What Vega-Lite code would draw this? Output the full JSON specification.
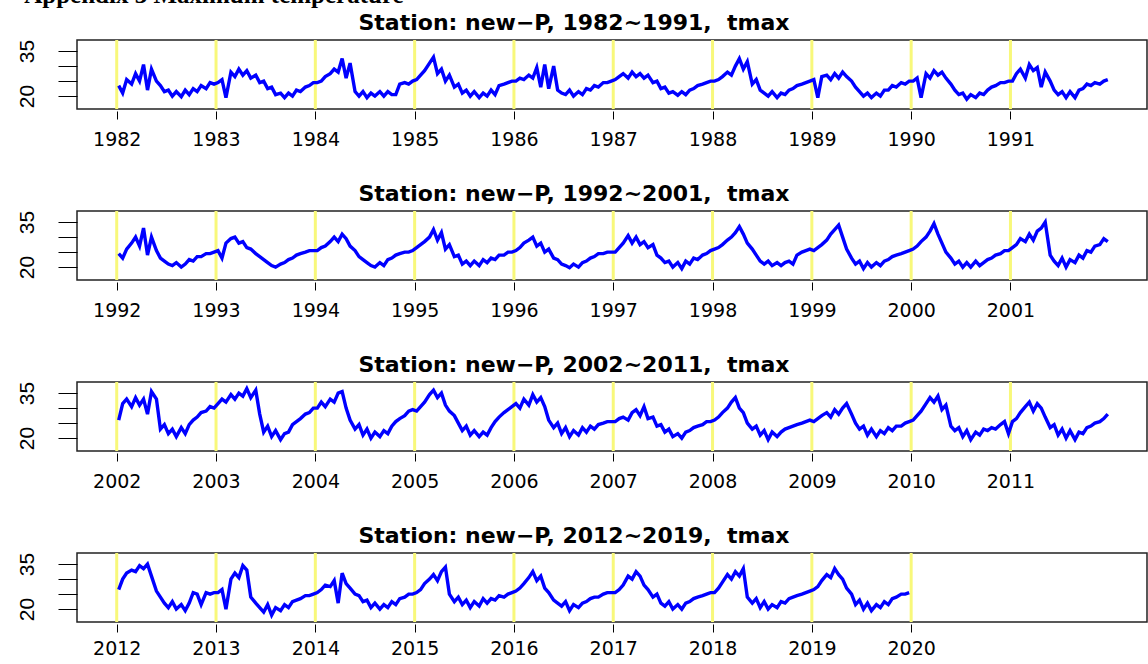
{
"$schema": "https://vega.github.io/schema/vega-lite/v6.json",
"background": "white",
"padding": {"left": 15, "top": -18, "right": 0, "bottom": 0},
"title": {"text": "Appendix 3 Maximum temperature", "anchor": "start", "font": "Liberation Serif", "fontSize": 25, "fontWeight": "bold", "color": "black", "offset": 3, "dx": 9},
"config": {
 "view": {"stroke": "#222222", "strokeWidth": 1.5},
 "title": {"font": "DejaVu Sans", "fontSize": 22, "fontWeight": "bold", "color": "black", "anchor": "middle", "offset": 4},
 "axis": {"grid": false, "domain": false, "tickColor": "black", "labelColor": "black"}
},
"spacing": 31,
"datasets": {
"yr": [{"x":1982},{"x":1983},{"x":1984},{"x":1985},{"x":1986},{"x":1987},{"x":1988},{"x":1989},{"x":1990},{"x":1991},{"x":1992},{"x":1993},{"x":1994},{"x":1995},{"x":1996},{"x":1997},{"x":1998},{"x":1999},{"x":2000},{"x":2001},{"x":2002},{"x":2003},{"x":2004},{"x":2005},{"x":2006},{"x":2007},{"x":2008},{"x":2009},{"x":2010},{"x":2011},{"x":2012},{"x":2013},{"x":2014},{"x":2015},{"x":2016},{"x":2017},{"x":2018},{"x":2019},{"x":2020}],
"tmax": [
{"x":1982.02,"t":23.5},{"x":1982.06,"t":21},{"x":1982.10,"t":25.5},{"x":1982.15,"t":24},{"x":1982.19,"t":27.5},{"x":1982.23,"t":25},{"x":1982.27,"t":30.5},{"x":1982.31,"t":22},{"x":1982.35,"t":29},{"x":1982.40,"t":25},{"x":1982.44,"t":23.5},{"x":1982.48,"t":21.5},{"x":1982.52,"t":22},{"x":1982.56,"t":20},{"x":1982.60,"t":21.5},{"x":1982.65,"t":19.8},{"x":1982.69,"t":22},{"x":1982.73,"t":20.5},{"x":1982.77,"t":22.5},{"x":1982.81,"t":21.5},{"x":1982.85,"t":23.5},{"x":1982.90,"t":22.5},{"x":1982.94,"t":24.5},{"x":1982.98,"t":24},
{"x":1983.02,"t":24.5},{"x":1983.06,"t":25.5},{"x":1983.10,"t":19.5},{"x":1983.15,"t":28},{"x":1983.19,"t":26.5},{"x":1983.23,"t":29},{"x":1983.27,"t":27},{"x":1983.31,"t":28.5},{"x":1983.35,"t":26},{"x":1983.40,"t":27},{"x":1983.44,"t":24.5},{"x":1983.48,"t":25},{"x":1983.52,"t":22.5},{"x":1983.56,"t":23},{"x":1983.60,"t":20.5},{"x":1983.65,"t":21},{"x":1983.69,"t":19.5},{"x":1983.73,"t":21},{"x":1983.77,"t":20},{"x":1983.81,"t":22},{"x":1983.85,"t":21.5},{"x":1983.90,"t":23},{"x":1983.94,"t":23.5},{"x":1983.98,"t":24.5},
{"x":1984.02,"t":24.5},{"x":1984.06,"t":25},{"x":1984.10,"t":26.5},{"x":1984.15,"t":27.5},{"x":1984.19,"t":29},{"x":1984.23,"t":28},{"x":1984.27,"t":32.5},{"x":1984.31,"t":26},{"x":1984.35,"t":31},{"x":1984.40,"t":21.5},{"x":1984.44,"t":20},{"x":1984.48,"t":21.5},{"x":1984.52,"t":19.5},{"x":1984.56,"t":21},{"x":1984.60,"t":20},{"x":1984.65,"t":21.5},{"x":1984.69,"t":20},{"x":1984.73,"t":21.5},{"x":1984.77,"t":20.5},{"x":1984.81,"t":20.5},{"x":1984.85,"t":24},{"x":1984.90,"t":24.5},{"x":1984.94,"t":24},{"x":1984.98,"t":25},
{"x":1985.02,"t":25.5},{"x":1985.06,"t":27},{"x":1985.10,"t":28.5},{"x":1985.15,"t":31},{"x":1985.19,"t":33},{"x":1985.23,"t":27.5},{"x":1985.27,"t":29},{"x":1985.31,"t":25},{"x":1985.35,"t":27},{"x":1985.40,"t":23},{"x":1985.44,"t":24},{"x":1985.48,"t":21},{"x":1985.52,"t":22},{"x":1985.56,"t":20},{"x":1985.60,"t":21.5},{"x":1985.65,"t":19.5},{"x":1985.69,"t":21},{"x":1985.73,"t":20},{"x":1985.77,"t":22},{"x":1985.81,"t":20.5},{"x":1985.85,"t":23.5},{"x":1985.90,"t":24},{"x":1985.94,"t":24.5},{"x":1985.98,"t":25},
{"x":1986.02,"t":25},{"x":1986.06,"t":26},{"x":1986.10,"t":25.5},{"x":1986.15,"t":27},{"x":1986.19,"t":26},{"x":1986.23,"t":29.5},{"x":1986.27,"t":23},{"x":1986.31,"t":30.5},{"x":1986.35,"t":22.5},{"x":1986.40,"t":30},{"x":1986.44,"t":22},{"x":1986.48,"t":21},{"x":1986.52,"t":20.5},{"x":1986.56,"t":22},{"x":1986.60,"t":20},{"x":1986.65,"t":21.5},{"x":1986.69,"t":20.5},{"x":1986.73,"t":22.5},{"x":1986.77,"t":22},{"x":1986.81,"t":23.5},{"x":1986.85,"t":23},{"x":1986.90,"t":24.5},{"x":1986.94,"t":24.5},{"x":1986.98,"t":25},
{"x":1987.02,"t":25.5},{"x":1987.06,"t":26.5},{"x":1987.10,"t":27.5},{"x":1987.15,"t":26},{"x":1987.19,"t":28},{"x":1987.23,"t":26.5},{"x":1987.27,"t":27.5},{"x":1987.31,"t":26},{"x":1987.35,"t":27},{"x":1987.40,"t":24.5},{"x":1987.44,"t":25},{"x":1987.48,"t":22.5},{"x":1987.52,"t":23},{"x":1987.56,"t":21},{"x":1987.60,"t":21.5},{"x":1987.65,"t":20.3},{"x":1987.69,"t":21.5},{"x":1987.73,"t":20.5},{"x":1987.77,"t":22},{"x":1987.81,"t":22.5},{"x":1987.85,"t":23.5},{"x":1987.90,"t":24},{"x":1987.94,"t":24.5},{"x":1987.98,"t":25},
{"x":1988.02,"t":25},{"x":1988.06,"t":25.5},{"x":1988.10,"t":26.5},{"x":1988.15,"t":28},{"x":1988.19,"t":27},{"x":1988.23,"t":30},{"x":1988.27,"t":32.5},{"x":1988.31,"t":29},{"x":1988.35,"t":31.5},{"x":1988.40,"t":24},{"x":1988.44,"t":25.5},{"x":1988.48,"t":22},{"x":1988.52,"t":21},{"x":1988.56,"t":20},{"x":1988.60,"t":21.5},{"x":1988.65,"t":19.5},{"x":1988.69,"t":21},{"x":1988.73,"t":20.5},{"x":1988.77,"t":22},{"x":1988.81,"t":22.5},{"x":1988.85,"t":23.5},{"x":1988.90,"t":24},{"x":1988.94,"t":24.5},{"x":1988.98,"t":25},
{"x":1989.02,"t":25.5},{"x":1989.06,"t":19.5},{"x":1989.10,"t":26.5},{"x":1989.15,"t":27},{"x":1989.19,"t":25.5},{"x":1989.23,"t":27.5},{"x":1989.27,"t":26},{"x":1989.31,"t":28},{"x":1989.35,"t":26.5},{"x":1989.40,"t":25},{"x":1989.44,"t":23},{"x":1989.48,"t":21.5},{"x":1989.52,"t":20},{"x":1989.56,"t":21},{"x":1989.60,"t":19.5},{"x":1989.65,"t":21},{"x":1989.69,"t":20},{"x":1989.73,"t":22},{"x":1989.77,"t":22},{"x":1989.81,"t":23.5},{"x":1989.85,"t":23},{"x":1989.90,"t":24.5},{"x":1989.94,"t":24},{"x":1989.98,"t":25},
{"x":1990.02,"t":25},{"x":1990.06,"t":26},{"x":1990.10,"t":19.5},{"x":1990.15,"t":27.5},{"x":1990.19,"t":26},{"x":1990.23,"t":28.5},{"x":1990.27,"t":27},{"x":1990.31,"t":28},{"x":1990.35,"t":26},{"x":1990.40,"t":24},{"x":1990.44,"t":22},{"x":1990.48,"t":20.5},{"x":1990.52,"t":21},{"x":1990.56,"t":19},{"x":1990.60,"t":20.5},{"x":1990.65,"t":19.5},{"x":1990.69,"t":21},{"x":1990.73,"t":20.5},{"x":1990.77,"t":22},{"x":1990.81,"t":23},{"x":1990.85,"t":23.5},{"x":1990.90,"t":24.5},{"x":1990.94,"t":24.5},{"x":1990.98,"t":25},
{"x":1991.02,"t":25},{"x":1991.06,"t":27.5},{"x":1991.10,"t":29},{"x":1991.15,"t":26},{"x":1991.19,"t":30.5},{"x":1991.23,"t":28.5},{"x":1991.27,"t":29.5},{"x":1991.31,"t":23},{"x":1991.35,"t":28},{"x":1991.40,"t":25},{"x":1991.44,"t":22},{"x":1991.48,"t":20.5},{"x":1991.52,"t":21.5},{"x":1991.56,"t":19.5},{"x":1991.60,"t":21.5},{"x":1991.65,"t":19.5},{"x":1991.69,"t":22},{"x":1991.73,"t":22.5},{"x":1991.77,"t":24},{"x":1991.81,"t":23.5},{"x":1991.85,"t":24.5},{"x":1991.90,"t":24},{"x":1991.94,"t":25},{"x":1991.98,"t":25.5},
{"x":1992.02,"t":24.5},{"x":1992.06,"t":23},{"x":1992.10,"t":26},{"x":1992.15,"t":28},{"x":1992.19,"t":30},{"x":1992.23,"t":27},{"x":1992.27,"t":33},{"x":1992.31,"t":24},{"x":1992.35,"t":30},{"x":1992.40,"t":25.5},{"x":1992.44,"t":23},{"x":1992.48,"t":22},{"x":1992.52,"t":21},{"x":1992.56,"t":20.5},{"x":1992.60,"t":21.5},{"x":1992.65,"t":20},{"x":1992.69,"t":21},{"x":1992.73,"t":22.5},{"x":1992.77,"t":22},{"x":1992.81,"t":23.5},{"x":1992.85,"t":23.5},{"x":1992.90,"t":24.5},{"x":1992.94,"t":24.5},{"x":1992.98,"t":25},
{"x":1993.02,"t":25.5},{"x":1993.06,"t":23},{"x":1993.10,"t":28},{"x":1993.15,"t":29.5},{"x":1993.19,"t":30},{"x":1993.23,"t":28},{"x":1993.27,"t":28.5},{"x":1993.31,"t":26.5},{"x":1993.35,"t":26},{"x":1993.40,"t":24.5},{"x":1993.44,"t":23.5},{"x":1993.48,"t":22.5},{"x":1993.52,"t":21.5},{"x":1993.56,"t":20.5},{"x":1993.60,"t":20},{"x":1993.65,"t":21},{"x":1993.69,"t":21.5},{"x":1993.73,"t":22.5},{"x":1993.77,"t":23},{"x":1993.81,"t":24},{"x":1993.85,"t":24.5},{"x":1993.90,"t":25},{"x":1993.94,"t":25.5},{"x":1993.98,"t":25.5},
{"x":1994.02,"t":25.5},{"x":1994.06,"t":26.5},{"x":1994.10,"t":27},{"x":1994.15,"t":28.5},{"x":1994.19,"t":30},{"x":1994.23,"t":28.5},{"x":1994.27,"t":31},{"x":1994.31,"t":29.5},{"x":1994.35,"t":27},{"x":1994.40,"t":25.5},{"x":1994.44,"t":23.5},{"x":1994.48,"t":22.5},{"x":1994.52,"t":21.5},{"x":1994.56,"t":20.5},{"x":1994.60,"t":20},{"x":1994.65,"t":21.5},{"x":1994.69,"t":20.5},{"x":1994.73,"t":22.5},{"x":1994.77,"t":23},{"x":1994.81,"t":24},{"x":1994.85,"t":24.5},{"x":1994.90,"t":25},{"x":1994.94,"t":25},{"x":1994.98,"t":25.5},
{"x":1995.02,"t":26.5},{"x":1995.06,"t":27.5},{"x":1995.10,"t":28.5},{"x":1995.15,"t":30},{"x":1995.19,"t":32.5},{"x":1995.23,"t":29},{"x":1995.27,"t":31.5},{"x":1995.31,"t":26},{"x":1995.35,"t":27.5},{"x":1995.40,"t":23.5},{"x":1995.44,"t":24},{"x":1995.48,"t":21},{"x":1995.52,"t":22},{"x":1995.56,"t":20.5},{"x":1995.60,"t":22},{"x":1995.65,"t":20.5},{"x":1995.69,"t":22.5},{"x":1995.73,"t":21.5},{"x":1995.77,"t":23},{"x":1995.81,"t":22.5},{"x":1995.85,"t":24},{"x":1995.90,"t":24},{"x":1995.94,"t":25},{"x":1995.98,"t":25},
{"x":1996.02,"t":25.5},{"x":1996.06,"t":26.5},{"x":1996.10,"t":28},{"x":1996.15,"t":29},{"x":1996.19,"t":30},{"x":1996.23,"t":27},{"x":1996.27,"t":28},{"x":1996.31,"t":25},{"x":1996.35,"t":26},{"x":1996.40,"t":23},{"x":1996.44,"t":22.5},{"x":1996.48,"t":21},{"x":1996.52,"t":20.5},{"x":1996.56,"t":19.8},{"x":1996.60,"t":21},{"x":1996.65,"t":20},{"x":1996.69,"t":21.5},{"x":1996.73,"t":22},{"x":1996.77,"t":23},{"x":1996.81,"t":23.5},{"x":1996.85,"t":24.5},{"x":1996.90,"t":24.5},{"x":1996.94,"t":25},{"x":1996.98,"t":25},
{"x":1997.02,"t":25},{"x":1997.06,"t":26.5},{"x":1997.10,"t":28},{"x":1997.15,"t":30.5},{"x":1997.19,"t":28},{"x":1997.23,"t":30},{"x":1997.27,"t":27.5},{"x":1997.31,"t":28.5},{"x":1997.35,"t":26.5},{"x":1997.40,"t":27.5},{"x":1997.44,"t":24},{"x":1997.48,"t":23},{"x":1997.52,"t":21.5},{"x":1997.56,"t":22},{"x":1997.60,"t":20},{"x":1997.65,"t":21.5},{"x":1997.69,"t":19.5},{"x":1997.73,"t":22},{"x":1997.77,"t":21},{"x":1997.81,"t":23},{"x":1997.85,"t":22.5},{"x":1997.90,"t":24},{"x":1997.94,"t":24.5},{"x":1997.98,"t":25.5},
{"x":1998.02,"t":26},{"x":1998.06,"t":26.5},{"x":1998.10,"t":27.5},{"x":1998.15,"t":29},{"x":1998.19,"t":30},{"x":1998.23,"t":31.5},{"x":1998.27,"t":33.5},{"x":1998.31,"t":31},{"x":1998.35,"t":28},{"x":1998.40,"t":26},{"x":1998.44,"t":24},{"x":1998.48,"t":22},{"x":1998.52,"t":21},{"x":1998.56,"t":22},{"x":1998.60,"t":20.5},{"x":1998.65,"t":21.5},{"x":1998.69,"t":20.5},{"x":1998.73,"t":21.5},{"x":1998.77,"t":22},{"x":1998.81,"t":21},{"x":1998.85,"t":24},{"x":1998.90,"t":25},{"x":1998.94,"t":25.5},{"x":1998.98,"t":26},
{"x":1999.02,"t":25.5},{"x":1999.06,"t":26.5},{"x":1999.10,"t":27.5},{"x":1999.15,"t":29},{"x":1999.19,"t":31},{"x":1999.23,"t":32.5},{"x":1999.27,"t":34},{"x":1999.31,"t":30},{"x":1999.35,"t":26},{"x":1999.40,"t":23},{"x":1999.44,"t":21},{"x":1999.48,"t":22},{"x":1999.52,"t":19.5},{"x":1999.56,"t":21.5},{"x":1999.60,"t":20},{"x":1999.65,"t":21.5},{"x":1999.69,"t":20.5},{"x":1999.73,"t":22},{"x":1999.77,"t":22.5},{"x":1999.81,"t":23.5},{"x":1999.85,"t":24},{"x":1999.90,"t":24.5},{"x":1999.94,"t":25},{"x":1999.98,"t":25.5},
{"x":2000.02,"t":26},{"x":2000.06,"t":27},{"x":2000.10,"t":28.5},{"x":2000.15,"t":30},{"x":2000.19,"t":32},{"x":2000.23,"t":34.5},{"x":2000.27,"t":31},{"x":2000.31,"t":28},{"x":2000.35,"t":25},{"x":2000.40,"t":23},{"x":2000.44,"t":21},{"x":2000.48,"t":22},{"x":2000.52,"t":20},{"x":2000.56,"t":21.5},{"x":2000.60,"t":20},{"x":2000.65,"t":22},{"x":2000.69,"t":20.5},{"x":2000.73,"t":21.5},{"x":2000.77,"t":22.5},{"x":2000.81,"t":23},{"x":2000.85,"t":24},{"x":2000.90,"t":24.5},{"x":2000.94,"t":25.5},{"x":2000.98,"t":25.5},
{"x":2001.02,"t":26.5},{"x":2001.06,"t":27.5},{"x":2001.10,"t":29.5},{"x":2001.15,"t":28.5},{"x":2001.19,"t":31},{"x":2001.23,"t":29},{"x":2001.27,"t":32},{"x":2001.31,"t":33},{"x":2001.35,"t":35},{"x":2001.40,"t":24},{"x":2001.44,"t":22},{"x":2001.48,"t":20.5},{"x":2001.52,"t":23},{"x":2001.56,"t":20},{"x":2001.60,"t":22.5},{"x":2001.65,"t":21.5},{"x":2001.69,"t":24},{"x":2001.73,"t":23},{"x":2001.77,"t":25.5},{"x":2001.81,"t":25},{"x":2001.85,"t":27},{"x":2001.90,"t":27.5},{"x":2001.94,"t":29.5},{"x":2001.98,"t":28.5},
{"x":2002.02,"t":26},{"x":2002.06,"t":31.5},{"x":2002.10,"t":33},{"x":2002.15,"t":30.5},{"x":2002.19,"t":33.5},{"x":2002.23,"t":31},{"x":2002.27,"t":33},{"x":2002.31,"t":28},{"x":2002.35,"t":35.5},{"x":2002.40,"t":33},{"x":2002.44,"t":23},{"x":2002.48,"t":24.5},{"x":2002.52,"t":21.5},{"x":2002.56,"t":23},{"x":2002.60,"t":20.5},{"x":2002.65,"t":23.5},{"x":2002.69,"t":21.5},{"x":2002.73,"t":24.5},{"x":2002.77,"t":26},{"x":2002.81,"t":27},{"x":2002.85,"t":28.5},{"x":2002.90,"t":29},{"x":2002.94,"t":30.5},{"x":2002.98,"t":30},
{"x":2003.02,"t":31.5},{"x":2003.06,"t":33},{"x":2003.10,"t":32},{"x":2003.15,"t":34.5},{"x":2003.19,"t":33},{"x":2003.23,"t":35},{"x":2003.27,"t":34},{"x":2003.31,"t":36.5},{"x":2003.35,"t":33.5},{"x":2003.40,"t":36},{"x":2003.44,"t":28},{"x":2003.48,"t":22},{"x":2003.52,"t":24},{"x":2003.56,"t":20.5},{"x":2003.60,"t":22.5},{"x":2003.65,"t":19.5},{"x":2003.69,"t":21.5},{"x":2003.73,"t":22},{"x":2003.77,"t":24.5},{"x":2003.81,"t":25.5},{"x":2003.85,"t":26.5},{"x":2003.90,"t":28},{"x":2003.94,"t":28.5},{"x":2003.98,"t":30},
{"x":2004.02,"t":30},{"x":2004.06,"t":32},{"x":2004.10,"t":30.5},{"x":2004.15,"t":33},{"x":2004.19,"t":32},{"x":2004.23,"t":35},{"x":2004.27,"t":35.5},{"x":2004.31,"t":30},{"x":2004.35,"t":26},{"x":2004.40,"t":23},{"x":2004.44,"t":24.5},{"x":2004.48,"t":21},{"x":2004.52,"t":23},{"x":2004.56,"t":20},{"x":2004.60,"t":22},{"x":2004.65,"t":20.5},{"x":2004.69,"t":22.5},{"x":2004.73,"t":21.5},{"x":2004.77,"t":24},{"x":2004.81,"t":25.5},{"x":2004.85,"t":26.5},{"x":2004.90,"t":27.5},{"x":2004.94,"t":29},{"x":2004.98,"t":29.5},
{"x":2005.02,"t":29},{"x":2005.06,"t":30.5},{"x":2005.10,"t":32},{"x":2005.15,"t":34.5},{"x":2005.19,"t":36},{"x":2005.23,"t":33.5},{"x":2005.27,"t":35},{"x":2005.31,"t":31},{"x":2005.35,"t":29},{"x":2005.40,"t":27.5},{"x":2005.44,"t":25},{"x":2005.48,"t":22.5},{"x":2005.52,"t":24},{"x":2005.56,"t":21},{"x":2005.60,"t":22.5},{"x":2005.65,"t":20.5},{"x":2005.69,"t":22},{"x":2005.73,"t":21},{"x":2005.77,"t":23.5},{"x":2005.81,"t":25.5},{"x":2005.85,"t":27},{"x":2005.90,"t":28.5},{"x":2005.94,"t":29.5},{"x":2005.98,"t":30.5},
{"x":2006.02,"t":31.5},{"x":2006.06,"t":30},{"x":2006.10,"t":33},{"x":2006.15,"t":31},{"x":2006.19,"t":34.5},{"x":2006.23,"t":32},{"x":2006.27,"t":33.5},{"x":2006.31,"t":30.5},{"x":2006.35,"t":26},{"x":2006.40,"t":23.5},{"x":2006.44,"t":25},{"x":2006.48,"t":21.5},{"x":2006.52,"t":23.5},{"x":2006.56,"t":20.5},{"x":2006.60,"t":22.5},{"x":2006.65,"t":21},{"x":2006.69,"t":23.5},{"x":2006.73,"t":22},{"x":2006.77,"t":24},{"x":2006.81,"t":23},{"x":2006.85,"t":24.5},{"x":2006.90,"t":25},{"x":2006.94,"t":25.5},{"x":2006.98,"t":25.5},
{"x":2007.02,"t":25.5},{"x":2007.06,"t":26.5},{"x":2007.10,"t":27},{"x":2007.15,"t":26},{"x":2007.19,"t":28.5},{"x":2007.23,"t":29.5},{"x":2007.27,"t":27.5},{"x":2007.31,"t":30.5},{"x":2007.35,"t":26.5},{"x":2007.40,"t":27},{"x":2007.44,"t":24},{"x":2007.48,"t":24.5},{"x":2007.52,"t":22},{"x":2007.56,"t":23},{"x":2007.60,"t":20.5},{"x":2007.65,"t":21.5},{"x":2007.69,"t":20},{"x":2007.73,"t":22},{"x":2007.77,"t":22.5},{"x":2007.81,"t":23.5},{"x":2007.85,"t":24},{"x":2007.90,"t":24.5},{"x":2007.94,"t":25.5},{"x":2007.98,"t":25.5},
{"x":2008.02,"t":26},{"x":2008.06,"t":27},{"x":2008.10,"t":28.5},{"x":2008.15,"t":30},{"x":2008.19,"t":32},{"x":2008.23,"t":33.5},{"x":2008.27,"t":30},{"x":2008.31,"t":28.5},{"x":2008.35,"t":25},{"x":2008.40,"t":23},{"x":2008.44,"t":24},{"x":2008.48,"t":21},{"x":2008.52,"t":22.5},{"x":2008.56,"t":19.5},{"x":2008.60,"t":22},{"x":2008.65,"t":20.5},{"x":2008.69,"t":22},{"x":2008.73,"t":23},{"x":2008.77,"t":23.5},{"x":2008.81,"t":24},{"x":2008.85,"t":24.5},{"x":2008.90,"t":25},{"x":2008.94,"t":25.5},{"x":2008.98,"t":26},
{"x":2009.02,"t":25.5},{"x":2009.06,"t":26.5},{"x":2009.10,"t":27.5},{"x":2009.15,"t":28.5},{"x":2009.19,"t":27},{"x":2009.23,"t":29.5},{"x":2009.27,"t":28},{"x":2009.31,"t":30},{"x":2009.35,"t":31.5},{"x":2009.40,"t":28},{"x":2009.44,"t":25},{"x":2009.48,"t":23},{"x":2009.52,"t":24},{"x":2009.56,"t":21},{"x":2009.60,"t":23},{"x":2009.65,"t":20.5},{"x":2009.69,"t":22.5},{"x":2009.73,"t":21.5},{"x":2009.77,"t":23.5},{"x":2009.81,"t":22.5},{"x":2009.85,"t":24},{"x":2009.90,"t":24},{"x":2009.94,"t":25},{"x":2009.98,"t":25.5},
{"x":2010.02,"t":26},{"x":2010.06,"t":27.5},{"x":2010.10,"t":29},{"x":2010.15,"t":31.5},{"x":2010.19,"t":33.5},{"x":2010.23,"t":32},{"x":2010.27,"t":34},{"x":2010.31,"t":29.5},{"x":2010.35,"t":31},{"x":2010.40,"t":24},{"x":2010.44,"t":22.5},{"x":2010.48,"t":23.5},{"x":2010.52,"t":20.5},{"x":2010.56,"t":22.5},{"x":2010.60,"t":19.5},{"x":2010.65,"t":22},{"x":2010.69,"t":21},{"x":2010.73,"t":23},{"x":2010.77,"t":22.5},{"x":2010.81,"t":23.5},{"x":2010.85,"t":23},{"x":2010.90,"t":24.5},{"x":2010.94,"t":25.5},{"x":2010.98,"t":21.5},
{"x":2011.02,"t":25.5},{"x":2011.06,"t":26.5},{"x":2011.10,"t":28.5},{"x":2011.15,"t":30.5},{"x":2011.19,"t":32},{"x":2011.23,"t":29},{"x":2011.27,"t":31.5},{"x":2011.31,"t":30},{"x":2011.35,"t":27},{"x":2011.40,"t":23.5},{"x":2011.44,"t":24.5},{"x":2011.48,"t":21},{"x":2011.52,"t":23},{"x":2011.56,"t":20},{"x":2011.60,"t":22.5},{"x":2011.65,"t":19.5},{"x":2011.69,"t":22},{"x":2011.73,"t":21.5},{"x":2011.77,"t":23.5},{"x":2011.81,"t":24},{"x":2011.85,"t":25},{"x":2011.90,"t":25.5},{"x":2011.94,"t":26.5},{"x":2011.98,"t":28},
{"x":2012.02,"t":26.5},{"x":2012.06,"t":30},{"x":2012.10,"t":32},{"x":2012.15,"t":33},{"x":2012.19,"t":32.5},{"x":2012.23,"t":34.5},{"x":2012.27,"t":33.5},{"x":2012.31,"t":35},{"x":2012.35,"t":31},{"x":2012.40,"t":26},{"x":2012.44,"t":24},{"x":2012.48,"t":22},{"x":2012.52,"t":20.5},{"x":2012.56,"t":22.5},{"x":2012.60,"t":20},{"x":2012.65,"t":21.5},{"x":2012.69,"t":19.5},{"x":2012.73,"t":22},{"x":2012.77,"t":25.5},{"x":2012.81,"t":25},{"x":2012.85,"t":21.5},{"x":2012.90,"t":25.5},{"x":2012.94,"t":25},{"x":2012.98,"t":25.5},
{"x":2013.02,"t":25.5},{"x":2013.06,"t":26.5},{"x":2013.10,"t":20},{"x":2013.15,"t":30},{"x":2013.19,"t":32},{"x":2013.23,"t":30.5},{"x":2013.27,"t":34.5},{"x":2013.31,"t":33},{"x":2013.35,"t":24},{"x":2013.40,"t":22},{"x":2013.44,"t":20.5},{"x":2013.48,"t":19},{"x":2013.52,"t":21.5},{"x":2013.56,"t":18},{"x":2013.60,"t":20.5},{"x":2013.65,"t":19.5},{"x":2013.69,"t":21.5},{"x":2013.73,"t":20.5},{"x":2013.77,"t":22.5},{"x":2013.81,"t":23},{"x":2013.85,"t":23.5},{"x":2013.90,"t":24.5},{"x":2013.94,"t":24.5},{"x":2013.98,"t":25},
{"x":2014.02,"t":25.5},{"x":2014.06,"t":26.5},{"x":2014.10,"t":28},{"x":2014.15,"t":27.5},{"x":2014.19,"t":29.5},{"x":2014.23,"t":22},{"x":2014.27,"t":32},{"x":2014.31,"t":28.5},{"x":2014.35,"t":27},{"x":2014.40,"t":25},{"x":2014.44,"t":24.5},{"x":2014.48,"t":22.5},{"x":2014.52,"t":23},{"x":2014.56,"t":20.5},{"x":2014.60,"t":22},{"x":2014.65,"t":20},{"x":2014.69,"t":21.5},{"x":2014.73,"t":20.5},{"x":2014.77,"t":22.5},{"x":2014.81,"t":21.5},{"x":2014.85,"t":23.5},{"x":2014.90,"t":24},{"x":2014.94,"t":25},{"x":2014.98,"t":25},
{"x":2015.02,"t":25.5},{"x":2015.06,"t":26.5},{"x":2015.10,"t":28.5},{"x":2015.15,"t":30},{"x":2015.19,"t":31.5},{"x":2015.23,"t":29.5},{"x":2015.27,"t":32.5},{"x":2015.31,"t":34},{"x":2015.35,"t":25},{"x":2015.40,"t":22.5},{"x":2015.44,"t":24},{"x":2015.48,"t":21.5},{"x":2015.52,"t":23},{"x":2015.56,"t":20.5},{"x":2015.60,"t":22.5},{"x":2015.65,"t":21},{"x":2015.69,"t":23.5},{"x":2015.73,"t":22},{"x":2015.77,"t":23.5},{"x":2015.81,"t":23},{"x":2015.85,"t":24.5},{"x":2015.90,"t":24},{"x":2015.94,"t":25},{"x":2015.98,"t":25.5},
{"x":2016.02,"t":26},{"x":2016.06,"t":27},{"x":2016.10,"t":28.5},{"x":2016.15,"t":30.5},{"x":2016.19,"t":32.5},{"x":2016.23,"t":29.5},{"x":2016.27,"t":31},{"x":2016.31,"t":27},{"x":2016.35,"t":25.5},{"x":2016.40,"t":23},{"x":2016.44,"t":22},{"x":2016.48,"t":21},{"x":2016.52,"t":22.5},{"x":2016.56,"t":19.5},{"x":2016.60,"t":21.5},{"x":2016.65,"t":20.5},{"x":2016.69,"t":22},{"x":2016.73,"t":22.5},{"x":2016.77,"t":23.5},{"x":2016.81,"t":24},{"x":2016.85,"t":24},{"x":2016.90,"t":25},{"x":2016.94,"t":25.5},{"x":2016.98,"t":25.5},
{"x":2017.02,"t":25.5},{"x":2017.06,"t":26.5},{"x":2017.10,"t":28},{"x":2017.15,"t":31},{"x":2017.19,"t":30},{"x":2017.23,"t":32.5},{"x":2017.27,"t":31},{"x":2017.31,"t":28},{"x":2017.35,"t":26.5},{"x":2017.40,"t":24},{"x":2017.44,"t":25},{"x":2017.48,"t":22},{"x":2017.52,"t":21},{"x":2017.56,"t":22.5},{"x":2017.60,"t":20},{"x":2017.65,"t":21.5},{"x":2017.69,"t":20},{"x":2017.73,"t":22},{"x":2017.77,"t":22.5},{"x":2017.81,"t":23.5},{"x":2017.85,"t":24},{"x":2017.90,"t":24.5},{"x":2017.94,"t":25},{"x":2017.98,"t":25.5},
{"x":2018.02,"t":25.5},{"x":2018.06,"t":27},{"x":2018.10,"t":29},{"x":2018.15,"t":31.5},{"x":2018.19,"t":30},{"x":2018.23,"t":32.5},{"x":2018.27,"t":31},{"x":2018.31,"t":33.5},{"x":2018.35,"t":24},{"x":2018.40,"t":22},{"x":2018.44,"t":23.5},{"x":2018.48,"t":20.5},{"x":2018.52,"t":22.5},{"x":2018.56,"t":20},{"x":2018.60,"t":21.5},{"x":2018.65,"t":20.5},{"x":2018.69,"t":22.5},{"x":2018.73,"t":22},{"x":2018.77,"t":23.5},{"x":2018.81,"t":24},{"x":2018.85,"t":24.5},{"x":2018.90,"t":25},{"x":2018.94,"t":25.5},{"x":2018.98,"t":26},
{"x":2019.02,"t":26.5},{"x":2019.06,"t":27.5},{"x":2019.10,"t":29.5},{"x":2019.15,"t":31.5},{"x":2019.19,"t":30.5},{"x":2019.23,"t":33.5},{"x":2019.27,"t":31.5},{"x":2019.31,"t":30},{"x":2019.35,"t":27},{"x":2019.40,"t":25},{"x":2019.44,"t":21.5},{"x":2019.48,"t":23},{"x":2019.52,"t":20},{"x":2019.56,"t":22},{"x":2019.60,"t":19.5},{"x":2019.65,"t":21.5},{"x":2019.69,"t":20.5},{"x":2019.73,"t":22.5},{"x":2019.77,"t":21.5},{"x":2019.81,"t":23.5},{"x":2019.85,"t":24},{"x":2019.90,"t":25},{"x":2019.94,"t":25},{"x":2019.98,"t":25.5}
]
},
"vconcat": [
{"width": 1070, "height": 69, "title": {"text": "Station: new−P, 1982~1991, \u00a0tmax", "dx": -38},
 "layer": [
  {"data": {"name": "yr"}, "transform": [{"filter": "datum.x >= 1982 && datum.x <= 1991"}],
   "mark": {"type": "rule", "color": "#f8f87a", "strokeWidth": 3},
   "encoding": {"x": {"field": "x", "type": "quantitative", "scale": {"domain": [1981.6, 1992.375], "nice": false, "zero": false},
     "axis": {"values": [1982,1983,1984,1985,1986,1987,1988,1989,1990,1991], "format": "d", "title": null, "tickSize": 8, "offset": 2, "labelFont": "DejaVu Sans", "labelFontSize": 19, "labelPadding": 11, "labelFlush": false, "labelOverlap": false}}}},
  {"data": {"name": "tmax"}, "transform": [{"filter": "datum.x >= 1982 && datum.x < 1992"}],
   "mark": {"type": "line", "color": "#0000ff", "strokeWidth": 3.4, "clip": true},
   "encoding": {"x": {"field": "x", "type": "quantitative"},
     "y": {"field": "t", "type": "quantitative", "scale": {"domain": [15.7, 38.7], "nice": false, "zero": false},
       "axis": {"values": [20,25,30,35], "title": null, "tickSize": 19, "labelAngle": 270, "labelFont": "Liberation Sans", "labelFontSize": 21, "labelPadding": 21, "labelExpr": "datum.value == 20 || datum.value == 35 ? datum.label : ''"}}}}
 ]},
{"width": 1070, "height": 69, "title": {"text": "Station: new−P, 1992~2001, \u00a0tmax", "dx": -38},
 "layer": [
  {"data": {"name": "yr"}, "transform": [{"filter": "datum.x >= 1992 && datum.x <= 2001"}],
   "mark": {"type": "rule", "color": "#f8f87a", "strokeWidth": 3},
   "encoding": {"x": {"field": "x", "type": "quantitative", "scale": {"domain": [1991.6, 2002.375], "nice": false, "zero": false},
     "axis": {"values": [1992,1993,1994,1995,1996,1997,1998,1999,2000,2001], "format": "d", "title": null, "tickSize": 8, "offset": 2, "labelFont": "DejaVu Sans", "labelFontSize": 19, "labelPadding": 11, "labelFlush": false, "labelOverlap": false}}}},
  {"data": {"name": "tmax"}, "transform": [{"filter": "datum.x >= 1992 && datum.x < 2002"}],
   "mark": {"type": "line", "color": "#0000ff", "strokeWidth": 3.4, "clip": true},
   "encoding": {"x": {"field": "x", "type": "quantitative"},
     "y": {"field": "t", "type": "quantitative", "scale": {"domain": [15.7, 38.7], "nice": false, "zero": false},
       "axis": {"values": [20,25,30,35], "title": null, "tickSize": 19, "labelAngle": 270, "labelFont": "Liberation Sans", "labelFontSize": 21, "labelPadding": 21, "labelExpr": "datum.value == 20 || datum.value == 35 ? datum.label : ''"}}}}
 ]},
{"width": 1070, "height": 69, "title": {"text": "Station: new−P, 2002~2011, \u00a0tmax", "dx": -38},
 "layer": [
  {"data": {"name": "yr"}, "transform": [{"filter": "datum.x >= 2002 && datum.x <= 2011"}],
   "mark": {"type": "rule", "color": "#f8f87a", "strokeWidth": 3},
   "encoding": {"x": {"field": "x", "type": "quantitative", "scale": {"domain": [2001.6, 2012.375], "nice": false, "zero": false},
     "axis": {"values": [2002,2003,2004,2005,2006,2007,2008,2009,2010,2011], "format": "d", "title": null, "tickSize": 8, "offset": 2, "labelFont": "DejaVu Sans", "labelFontSize": 19, "labelPadding": 11, "labelFlush": false, "labelOverlap": false}}}},
  {"data": {"name": "tmax"}, "transform": [{"filter": "datum.x >= 2002 && datum.x < 2012"}],
   "mark": {"type": "line", "color": "#0000ff", "strokeWidth": 3.4, "clip": true},
   "encoding": {"x": {"field": "x", "type": "quantitative"},
     "y": {"field": "t", "type": "quantitative", "scale": {"domain": [15.7, 38.7], "nice": false, "zero": false},
       "axis": {"values": [20,25,30,35], "title": null, "tickSize": 19, "labelAngle": 270, "labelFont": "Liberation Sans", "labelFontSize": 21, "labelPadding": 21, "labelExpr": "datum.value == 20 || datum.value == 35 ? datum.label : ''"}}}}
 ]},
{"width": 1070, "height": 69, "title": {"text": "Station: new−P, 2012~2019, \u00a0tmax", "dx": -38},
 "layer": [
  {"data": {"name": "yr"}, "transform": [{"filter": "datum.x >= 2012 && datum.x <= 2020"}],
   "mark": {"type": "rule", "color": "#f8f87a", "strokeWidth": 3},
   "encoding": {"x": {"field": "x", "type": "quantitative", "scale": {"domain": [2011.6, 2022.375], "nice": false, "zero": false},
     "axis": {"values": [2012,2013,2014,2015,2016,2017,2018,2019,2020], "format": "d", "title": null, "tickSize": 8, "offset": 2, "labelFont": "DejaVu Sans", "labelFontSize": 19, "labelPadding": 7, "labelFlush": false, "labelOverlap": false}}}},
  {"data": {"name": "tmax"}, "transform": [{"filter": "datum.x >= 2012 && datum.x < 2020"}],
   "mark": {"type": "line", "color": "#0000ff", "strokeWidth": 3.4, "clip": true},
   "encoding": {"x": {"field": "x", "type": "quantitative"},
     "y": {"field": "t", "type": "quantitative", "scale": {"domain": [15.7, 38.7], "nice": false, "zero": false},
       "axis": {"values": [20,25,30,35], "title": null, "tickSize": 19, "labelAngle": 270, "labelFont": "Liberation Sans", "labelFontSize": 21, "labelPadding": 21, "labelExpr": "datum.value == 20 || datum.value == 35 ? datum.label : ''"}}}}
 ]}
]
}
